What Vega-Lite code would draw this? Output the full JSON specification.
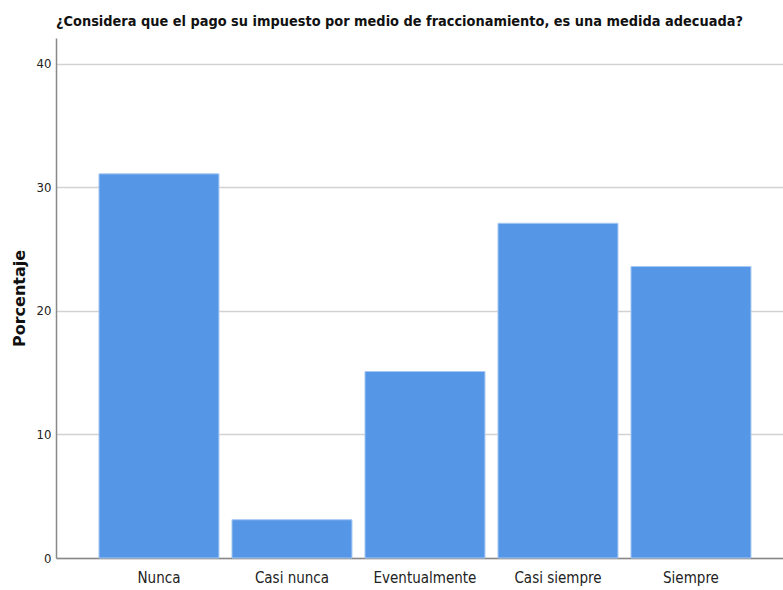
{
  "$schema": "https://vega.github.io/schema/vega-lite/v6.json",
  "autosize": "none",
  "width": 727,
  "height": 520,
  "padding": {"left": 56, "top": 38, "right": 0, "bottom": 32},
  "background": "white",
  "title": {
    "text": "¿Considera que el pago su impuesto por medio de fraccionamiento, es una medida adecuada?",
    "anchor": "start",
    "frame": "group",
    "font": "'DejaVu Sans Condensed', Roboto, sans-serif",
    "fontSize": 14.4,
    "fontWeight": "bold",
    "color": "#111111",
    "offset": 9
  },
  "data": {
    "values": [
      {"categoria": "Nunca", "porcentaje": 31.1},
      {"categoria": "Casi nunca", "porcentaje": 3.1},
      {"categoria": "Eventualmente", "porcentaje": 15.1},
      {"categoria": "Casi siempre", "porcentaje": 27.1},
      {"categoria": "Siempre", "porcentaje": 23.6}
    ]
  },
  "mark": {"type": "bar", "color": "#5596e6", "stroke": "#a6c8f2", "strokeWidth": 1},
  "encoding": {
    "x": {
      "field": "categoria",
      "type": "nominal",
      "sort": null,
      "scale": {"paddingInner": 0.098, "paddingOuter": 0.282, "align": 0.573},
      "axis": {
        "title": null,
        "labelAngle": 0,
        "labelFont": "'DejaVu Sans Condensed', Roboto, sans-serif",
        "labelFontSize": 15,
        "labelColor": "#222222",
        "labelPadding": 12,
        "ticks": false,
        "domainColor": "#888888",
        "domainWidth": 1.5,
        "grid": false
      }
    },
    "y": {
      "field": "porcentaje",
      "type": "quantitative",
      "scale": {"domain": [0, 42.1], "nice": false},
      "axis": {
        "title": "Porcentaje",
        "values": [0, 10, 20, 30, 40],
        "titleFont": "DejaVu Sans",
        "titleFontSize": 16,
        "titleFontWeight": "bold",
        "titleColor": "#111111",
        "titleX": -32,
        "titleY": 260,
        "titleAngle": -90,
        "titleAlign": "center",
        "titleBaseline": "alphabetic",
        "labelFont": "'DejaVu Sans Condensed', Roboto, sans-serif",
        "labelFontSize": 13,
        "labelColor": "#222222",
        "labelPadding": 5,
        "ticks": false,
        "domainColor": "#888888",
        "domainWidth": 1.5,
        "grid": true,
        "gridColor": "#d2d2d2",
        "gridWidth": 1.5
      }
    }
  },
  "config": {"view": {"stroke": null}}
}
